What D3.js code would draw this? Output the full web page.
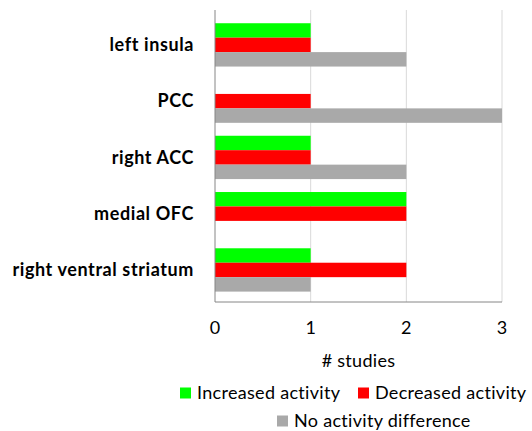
<!DOCTYPE html>
<html>
<head>
<meta charset="utf-8">
<script src="https://cdn.jsdelivr.net/npm/d3@7"></script>
<style>
  body { margin: 0; background: #fff; }
  svg text { font-family: Lato, "Open Sans", sans-serif; fill: #000; }
</style>
</head>
<body>
<div id="chart"></div>
<script>
// regions, top to bottom
const regions = ['left insula', 'PCC', 'right ACC', 'medial OFC', 'right ventral striatum']
const seriesNames = ['Increased activity', 'Decreased activity', 'No activity difference']
const increased = [1, 0, 1, 2, 1]
const decreased = [1, 1, 1, 2, 2]
const noDifference = [2, 3, 2, 0, 1]
const ticks = [0, 1, 2, 3]
const colors = ['#00ff00', '#ff0000', '#a9a9a9']

const width = 532, height = 431
const plot = { left: 215, right: 502, top: 10, bottom: 302 }

const rows = regions.map((r, i) => ({
    region: r,
    values: [increased[i], decreased[i], noDifference[i]]
}))

const svg = d3.select('#chart').append('svg')
    .attr('width', width)
    .attr('height', height)

const x = d3.scaleLinear().domain([0, 3]).range([plot.left, plot.right])

const y = d3.scaleBand()
    .domain(regions)
    .range([plot.top, plot.bottom])
    .paddingInner(0.23)
    .paddingOuter(0.21)
    .align(0.56)

const yInner = d3.scaleBand()
    .domain(d3.range(seriesNames.length))
    .range([0, y.bandwidth()])

// gridlines
svg.append('g')
    .selectAll('line')
    .data(ticks.slice(1))
    .join('line')
    .attr('x1', d => x(d)).attr('x2', d => x(d))
    .attr('y1', plot.top).attr('y2', plot.bottom)
    .attr('stroke', '#d9d9d9')
    .attr('stroke-width', 1)

// bars
svg.append('g')
    .selectAll('g')
    .data(rows)
    .join('g')
    .attr('transform', d => `translate(0, ${y(d.region)})`)
    .selectAll('rect')
    .data(d => d.values.map((v, i) => ({ v, i })))
    .join('rect')
    .attr('x', x(0))
    .attr('y', d => yInner(d.i))
    .attr('width', d => x(d.v) - x(0))
    .attr('height', yInner.bandwidth())
    .attr('fill', d => colors[d.i])

// axis lines
svg.append('line')
    .attr('x1', plot.left).attr('x2', plot.left)
    .attr('y1', plot.top).attr('y2', plot.bottom)
    .attr('stroke', '#868686')
svg.append('line')
    .attr('x1', plot.left).attr('x2', plot.right)
    .attr('y1', plot.bottom).attr('y2', plot.bottom)
    .attr('stroke', '#868686')

// tick labels
svg.append('g')
    .selectAll('text')
    .data(ticks)
    .join('text')
    .attr('x', d => x(d))
    .attr('y', 328)
    .attr('dy', '0.35em')
    .attr('text-anchor', 'middle')
    .attr('font-size', '18px')
    .text(d => d)

// category labels
svg.append('g')
    .selectAll('text')
    .data(regions)
    .join('text')
    .attr('x', 194)
    .attr('y', d => y(d) + y.bandwidth() / 2)
    .attr('dy', '0.35em')
    .attr('text-anchor', 'end')
    .attr('font-size', '18px')
    .attr('font-weight', 'bold')
    .attr('letter-spacing', '0.6px')
    .text(d => d)

// axis title
svg.append('text')
    .attr('x', x(1.5))
    .attr('y', 361)
    .attr('dy', '0.35em')
    .attr('text-anchor', 'middle')
    .attr('font-size', '18px')
    .attr('letter-spacing', '0.3px')
    .text('# studies')

// legend
const legendItems = [
    { name: seriesNames[0], color: colors[0], x: 180, y: 393 },
    { name: seriesNames[1], color: colors[1], x: 358, y: 393 },
    { name: seriesNames[2], color: colors[2], x: 277, y: 421 }
]

const legend = svg.append('g')
    .selectAll('g')
    .data(legendItems)
    .join('g')
    .attr('transform', d => `translate(${d.x}, ${d.y})`)

legend.append('rect')
    .attr('x', 0)
    .attr('y', -5.5)
    .attr('width', 11)
    .attr('height', 11)
    .attr('fill', d => d.color)

legend.append('text')
    .attr('x', 17)
    .attr('dy', '0.35em')
    .attr('font-size', '18px')
    .attr('letter-spacing', '0.3px')
    .text(d => d.name)
</script>
</body>
</html>
